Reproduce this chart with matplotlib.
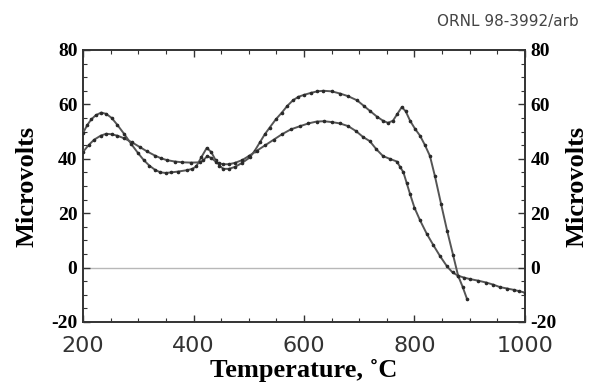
import matplotlib
matplotlib.use('Agg')
import matplotlib.pyplot as plt
from matplotlib.ticker import MultipleLocator

# curve that peaks near 640 C and ends around 900 C
temp_a = [200, 208, 215, 223, 233, 242, 252, 262, 275, 287, 300, 310, 320, 330,
          340, 350, 360, 372, 388, 398, 405, 414, 424, 432, 440, 447, 454, 464,
          475, 488, 502, 511, 520, 529, 538, 549, 560, 570, 580, 590, 600, 612,
          624, 635, 650, 665, 680, 696, 708, 720, 732, 743, 752, 761, 769, 777,
          784, 792, 801, 810, 819, 828, 837, 848, 859, 870, 879, 887, 895]
volts_a = [49.5, 52.5, 54.5, 56, 57, 56.5, 55, 52.5, 49, 45.5, 42, 39.5, 37.5, 36,
           35, 34.8, 35, 35.3, 35.8, 36.3, 37.2, 40.5, 44, 42.5, 39.5, 37.5, 36.3, 36.3,
           37, 38.5, 40.5, 43, 46, 49, 51.5, 54.5, 57, 59.5, 61.5, 62.8, 63.5, 64.2,
           64.8, 65, 64.8, 64, 63, 61.5, 59.5, 57.5, 55.5, 54, 53.2, 54, 56.5, 59,
           57.5, 54, 51, 48.5, 45, 41, 33.6, 23.5, 13.6, 4.5, -3, -7, -11.5]

# curve that runs to 1000 C
temp_b = [200, 210, 220, 232, 242, 252, 262, 275, 289, 303, 316, 330, 341, 352,
          366, 380, 396, 412, 418, 425, 432, 440, 447, 454, 464, 475, 488, 500,
          515, 530, 545, 560, 576, 593, 608, 623, 636, 650, 665, 680, 694, 707,
          719, 731, 743, 755, 768, 774, 780, 786, 792, 800, 810, 822, 834, 846,
          859, 869, 879, 890, 900, 915, 930, 943, 955, 968, 980, 990, 1000]
volts_b = [42.5, 45, 47, 48.5, 49.2, 49, 48.5, 47.5, 46, 44.3, 42.7, 41.2, 40.2, 39.5,
           39, 38.7, 38.6, 38.7, 39.5, 41, 40.3, 39, 38.3, 38, 38, 38.5, 39.5, 41,
           43, 45, 47, 49, 50.8, 52, 53, 53.7, 53.8, 53.5, 53, 52, 50.2, 48,
           46.5, 43.5, 41, 40, 39, 37, 35, 31, 27, 22, 17.4, 12.5, 8.3, 4.3,
           0.4, -1.8, -3, -3.7, -4.2, -4.8, -5.5, -6.3, -7.2, -7.7, -8.2, -8.7, -9.2]

x_ticks = [200, 400, 600, 800, 1000]
y_ticks = [-20, 0, 20, 40, 60, 80]

serif = ['Liberation Serif', 'DejaVu Serif']
plt.rcParams['axes.unicode_minus'] = False

fig = plt.figure(figsize=(5.9, 3.83), dpi=100)
ax = fig.add_axes([0.1407, 0.1593, 0.7491, 0.7102])

ax.axhline(0, color='#b8b8b8', lw=1.0, zorder=1)
for temps, volts in [(temp_a, volts_a), (temp_b, volts_b)]:
    ax.plot(temps, volts, color='#555555', lw=1.4, marker='.', ms=3.2,
            mfc='#2a2a2a', mec='#2a2a2a', zorder=3)

ax.set_xlim(200, 1000)
ax.set_ylim(-20, 80)
ax.set_xticks(x_ticks)
ax.set_yticks(y_ticks)
ax.xaxis.set_minor_locator(MultipleLocator(50))
ax.yaxis.set_minor_locator(MultipleLocator(5))
ax.tick_params(which='both', direction='in', top=True, right=True,
               labelleft=True, labelright=True, color='#333333')
ax.tick_params(which='major', length=5, width=1)
ax.tick_params(which='minor', length=3, width=0.8)
ax.tick_params(axis='x', labelsize=16, pad=10, labelcolor='#333333')
ax.tick_params(axis='y', pad=4)
for spine in ax.spines.values():
    spine.set_linewidth(1.4)
    spine.set_color('#333333')

for tick in ax.yaxis.get_major_ticks():
    for lab in (tick.label1, tick.label2):
        lab.set_family(serif)
        lab.set_fontweight('bold')
        lab.set_fontsize(14)

ax.set_xlabel('Temperature, ˚C', family=serif, fontweight='bold',
              fontsize=19, labelpad=2)
mid_y = 0.5 * (0.1593 + 0.8695)
fig.text(0.045, mid_y, 'Microvolts', family=serif, fontweight='bold',
         fontsize=19, rotation=90, ha='center', va='center')
fig.text(0.978, mid_y, 'Microvolts', family=serif, fontweight='bold',
         fontsize=19, rotation=90, ha='center', va='center')

fig.text(0.741, 0.943, 'ORNL 98-3992/arb', ha='left', va='center',
         fontsize=11, color='#444444')

plt.savefig('out.png', dpi=100)
plt.close()
